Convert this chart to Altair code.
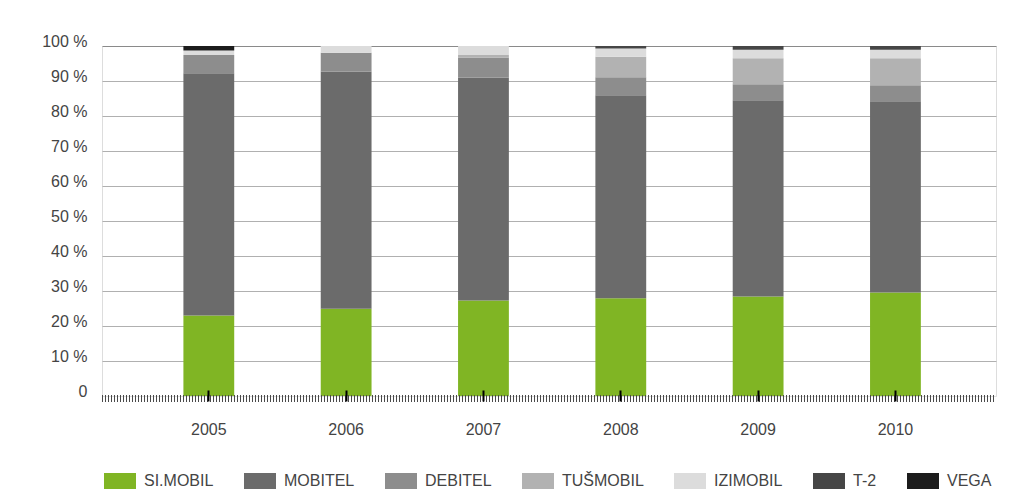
import altair as alt
import pandas as pd

years = ["2005", "2006", "2007", "2008", "2009", "2010"]
operators = ["SI.MOBIL", "MOBITEL", "DEBITEL", "TUŠMOBIL", "IZIMOBIL", "T-2", "VEGA"]
colors = ["#80b524", "#6b6b6b", "#8d8d8d", "#b2b2b2", "#dcdcdc", "#464646", "#1c1c1c"]

si_mobil = [23.0, 24.9, 27.3, 27.9, 28.4, 29.6]
mobitel = [69.2, 67.8, 63.7, 58.0, 56.1, 54.6]
debitel = [5.2, 5.4, 5.7, 5.2, 4.6, 4.6]
tusmobil = [0.0, 0.0, 0.7, 5.8, 7.4, 7.7]
izimobil = [1.3, 1.9, 2.6, 2.4, 2.4, 2.4]
t2 = [0.0, 0.0, 0.0, 0.7, 1.1, 1.1]
vega = [1.3, 0.0, 0.0, 0.0, 0.0, 0.0]

series = [si_mobil, mobitel, debitel, tusmobil, izimobil, t2, vega]
rows = []
for i, (op, vals) in enumerate(zip(operators, series)):
    for y, v in zip(years, vals):
        rows.append({"year": y, "operator": op, "share": v, "idx": i})
df = pd.DataFrame(rows)

W, H = 894, 350
FONT = "Liberation Sans"

xscale = alt.Scale(domain=years, paddingInner=0.63, paddingOuter=0.57, align=0.52)

bars = alt.Chart(df).mark_bar().encode(
    x=alt.X("year:N", scale=xscale, sort=years,
            axis=alt.Axis(title=None, labelAngle=0, domain=False, ticks=True,
                          tickSize=11, tickWidth=2, tickColor="#000000", offset=-6,
                          labelPadding=20, labelFontSize=16, labelColor="#444444",
                          labelFont=FONT, zindex=1)),
    y=alt.Y("share:Q", stack="zero", scale=alt.Scale(domain=[0, 100], nice=False),
            axis=alt.Axis(title=None, values=list(range(0, 101, 10)), domain=False, ticks=False,
                          labelExpr="datum.value == 0 ? '0' : datum.value + ' %'",
                          labelPadding=15, labelFontSize=16, labelColor="#444444",
                          labelFont=FONT, labelBaseline="alphabetic",
                          gridColor={"condition": {"test": "datum.value == 100", "value": "#8a8a8a"},
                                     "value": "#b0b0b0"},
                          gridOpacity={"condition": {"test": "datum.value == 0", "value": 0},
                                       "value": 1},
                          gridWidth=1.2)),
    color=alt.Color("operator:N", scale=alt.Scale(domain=operators, range=colors),
                    sort=operators,
                    legend=alt.Legend(title=None, orient="none", legendX=2, legendY=419,
                                      direction="horizontal", symbolType="M-1,-0.5H1V0.5H-1Z",
                                      symbolSize=1024, symbolStrokeWidth=0, symbolOpacity=1,
                                      labelOffset=8, columnPadding=30, labelFontSize=16,
                                      labelColor="#444444", labelFont=FONT)),
    order=alt.Order("idx:Q", sort="ascending"),
)

hatch = alt.Chart(df).mark_rule(color="#4a4a4a", strokeWidth=6, strokeDash=[1, 2]).encode(
    x=alt.value(0), x2=alt.value(W), y=alt.value(H + 2.5)
)

chart = alt.layer(bars, hatch).properties(
    width=W, height=H,
    autosize=alt.AutoSizeParams(type="none"),
    padding={"left": 94, "top": 38, "right": 15, "bottom": 99},
).configure_view(stroke=None).configure(background="#ffffff")

chart.save("out.html", embed_options={"renderer": "svg", "actions": False})
